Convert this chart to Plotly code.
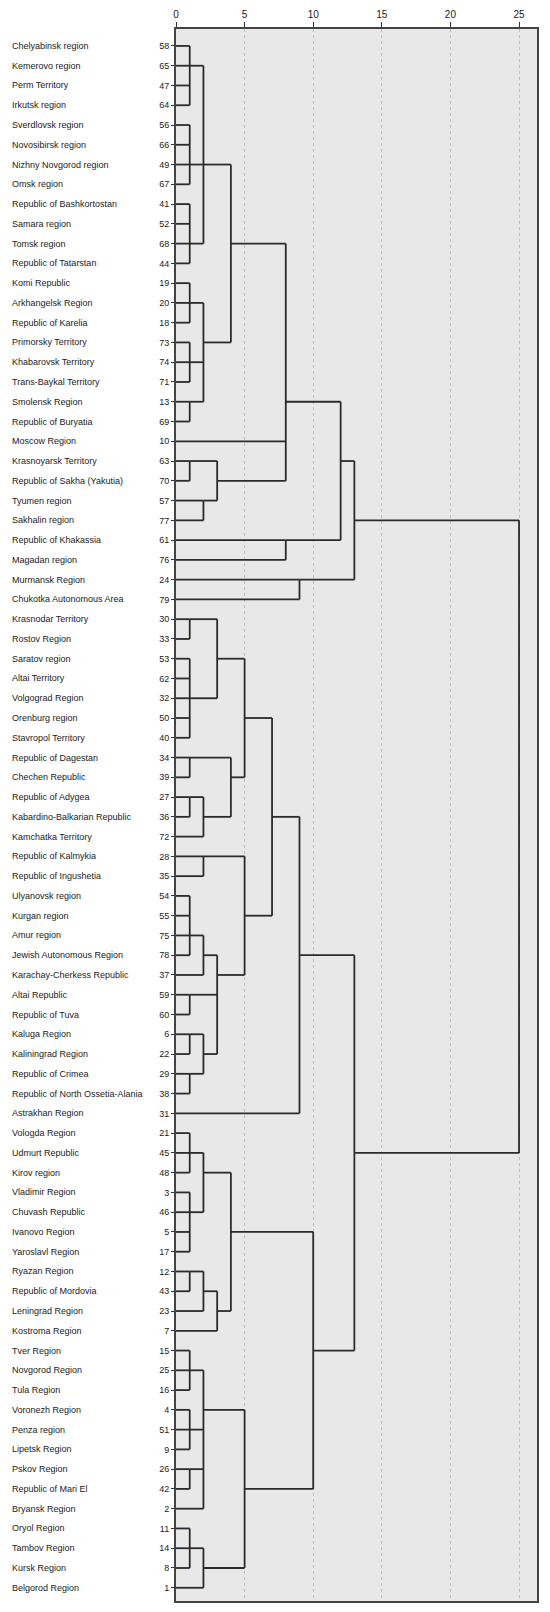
import plotly.graph_objects as go

# ---------------- data ----------------
region_names = [
    "Chelyabinsk region", "Kemerovo region", "Perm Territory", "Irkutsk region",
    "Sverdlovsk region", "Novosibirsk region", "Nizhny Novgorod region", "Omsk region",
    "Republic of Bashkortostan", "Samara region", "Tomsk region", "Republic of Tatarstan",
    "Komi Republic", "Arkhangelsk Region", "Republic of Karelia", "Primorsky Territory",
    "Khabarovsk Territory", "Trans-Baykal Territory", "Smolensk Region", "Republic of Buryatia",
    "Moscow Region", "Krasnoyarsk Territory", "Republic of Sakha (Yakutia)", "Tyumen region",
    "Sakhalin region", "Republic of Khakassia", "Magadan region", "Murmansk Region",
    "Chukotka Autonomous Area", "Krasnodar Territory", "Rostov Region", "Saratov region",
    "Altai Territory", "Volgograd Region", "Orenburg region", "Stavropol Territory",
    "Republic of Dagestan", "Chechen Republic", "Republic of Adygea", "Kabardino-Balkarian Republic",
    "Kamchatka Territory", "Republic of Kalmykia", "Republic of Ingushetia", "Ulyanovsk region",
    "Kurgan region", "Amur region", "Jewish Autonomous Region", "Karachay-Cherkess Republic",
    "Altai Republic", "Republic of Tuva", "Kaluga Region", "Kaliningrad Region",
    "Republic of Crimea", "Republic of North Ossetia-Alania", "Astrakhan Region", "Vologda Region",
    "Udmurt Republic", "Kirov region", "Vladimir Region", "Chuvash Republic",
    "Ivanovo Region", "Yaroslavl Region", "Ryazan Region", "Republic of Mordovia",
    "Leningrad Region", "Kostroma Region", "Tver Region", "Novgorod Region",
    "Tula Region", "Voronezh Region", "Penza region", "Lipetsk Region",
    "Pskov Region", "Republic of Mari El", "Bryansk Region", "Oryol Region",
    "Tambov Region", "Kursk Region", "Belgorod Region",
]

case_numbers = [
    58, 65, 47, 64, 56, 66, 49, 67, 41, 52, 68, 44, 19, 20, 18, 73, 74, 71, 13, 69,
    10, 63, 70, 57, 77, 61, 76, 24, 79, 30, 33, 53, 62, 32, 50, 40, 34, 39, 27, 36,
    72, 28, 35, 54, 55, 75, 78, 37, 59, 60, 6, 22, 29, 38, 31, 21, 45, 48, 3, 46,
    5, 17, 12, 43, 23, 7, 15, 25, 16, 4, 51, 9, 26, 42, 2, 11, 14, 8, 1,
]

# merges (bottom-up): rescaled distance, rows (1-based) of joined clusters, row the new cluster continues on
merge_heights = [
    1, 1, 1, 2, 1, 1, 1, 2, 4, 1, 2, 3, 8, 8, 12, 9, 13,
    1, 1, 3, 1, 1, 2, 4, 5, 2, 1, 2, 1, 1, 1, 2, 3, 5, 7, 9,
    1, 1, 2, 1, 2, 3, 4, 1, 1, 1, 2, 1, 2, 5, 10, 13,
    25,
]
merge_children = [
    [1, 2, 3, 4], [5, 6, 7, 8], [9, 10, 11, 12], [2, 7, 11],
    [13, 14, 15], [16, 17, 18], [19, 20], [14, 17, 19], [7, 16],
    [22, 23], [24, 25], [22, 24], [11, 21, 23], [26, 27], [19, 26], [28, 29], [22, 28],
    [30, 31], [32, 33, 34, 35, 36], [30, 34], [37, 38], [39, 40], [39, 41], [37, 40], [32, 38],
    [42, 43], [44, 45, 46, 47], [46, 48], [49, 50], [51, 52], [53, 54], [51, 53],
    [47, 49, 52], [42, 48], [35, 45], [40, 55],
    [56, 57, 58], [59, 60, 61, 62], [57, 60], [63, 64], [63, 65], [64, 66], [58, 65],
    [67, 68, 69], [70, 71, 72], [73, 74], [68, 71, 73, 75], [76, 77, 78], [77, 79], [70, 78],
    [61, 74], [47, 67],
    [25, 57],
]
merge_out_rows = [
    2, 7, 11, 7, 14, 17, 19, 16, 11, 22, 24, 23, 19, 26, 22, 28, 25,
    30, 34, 32, 37, 39, 40, 38, 35, 42, 46, 47, 49, 51, 53, 52, 48, 45, 40, 47,
    57, 60, 58, 63, 64, 65, 61, 68, 71, 73, 70, 77, 78, 74, 67, 57,
    57,
]

axis_ticks = [0, 5, 10, 15, 20, 25]

# ---------------- build line segments ----------------
n_rows = len(region_names)
rows = list(range(1, n_rows + 1))
current_x = {r: 0 for r in rows}
xs, ys = [], []
for h, kids, out in zip(merge_heights, merge_children, merge_out_rows):
    for r in kids:
        xs += [current_x[r], h, None]
        ys += [r, r, None]
    xs += [h, h, None]
    ys += [min(kids), max(kids), None]
    current_x[out] = h

FONT = "Liberation Sans, Arial, sans-serif"

fig = go.Figure()
fig.add_trace(go.Scatter(
    x=xs, y=ys, mode="lines",
    line=dict(color="#2b2b2b", width=1.8),
    hoverinfo="skip", showlegend=False,
))

for r, name in zip(rows, region_names):
    fig.add_annotation(
        x=-0.4595, xref="paper", y=r, yref="y",
        text=name, showarrow=False, xanchor="left", yanchor="middle",
        font=dict(family=FONT, size=9, color="#1a1a1a"),
    )

fig.update_layout(
    width=550, height=1612,
    margin=dict(l=176, r=13, t=25, b=9),
    paper_bgcolor="white",
    plot_bgcolor="#e8e8e8",
    font=dict(family=FONT, size=9, color="#1a1a1a"),
    xaxis=dict(
        side="top", range=[0, 26.31],
        tickvals=axis_ticks, ticktext=[str(t) for t in axis_ticks],
        ticks="outside", ticklen=5, tickwidth=1, tickcolor="#333",
        tickfont=dict(family=FONT, size=10, color="#1a1a1a"),
        showgrid=True, gridcolor="#bcbcbc", griddash="dot", gridwidth=1,
        zeroline=False, showline=True, mirror=True, linecolor="#444", linewidth=2,
        fixedrange=True,
    ),
    yaxis=dict(
        range=[79.67, 0.143],
        tickvals=rows, ticktext=[str(c) for c in case_numbers],
        ticks="outside", ticklen=3, tickwidth=1, tickcolor="#333",
        tickfont=dict(family=FONT, size=9, color="#1a1a1a"),
        showgrid=False, zeroline=False,
        showline=True, mirror=True, linecolor="#444", linewidth=2,
        fixedrange=True,
    ),
)

fig.write_html(
    "out.html",
    config={"displayModeBar": False},
    post_script="document.body.style.margin='0';document.body.style.padding='0';",
)
